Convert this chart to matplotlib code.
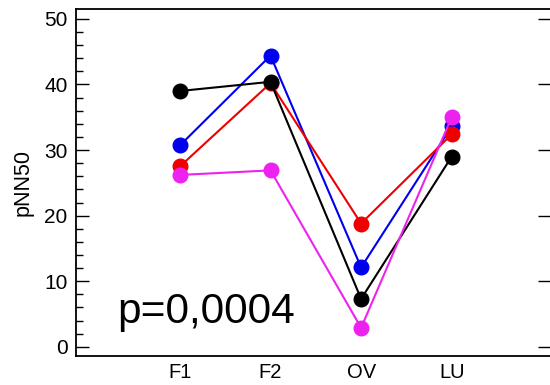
import matplotlib.pyplot as plt
import numpy as np

plt.rcParams['font.family'] = ['Liberation Sans', 'DejaVu Sans']

phases = ["F1", "F2", "OV", "LU"]
black = [39.0, 40.4, 7.3, 29.0]
blue = [30.7, 44.4, 12.1, 33.6]
red = [27.5, 40.2, 18.8, 32.4]
magenta = [26.2, 26.9, 2.9, 35.0]
p_text = "p=0,0004"

x = np.arange(len(phases))

fig = plt.figure(figsize=(5.5, 3.85), dpi=100)
ax = fig.add_axes([0.138, 0.0753, 0.862, 0.9013])

series = [(blue, "#0000ee"), (red, "#ee0000"), (black, "#000000"), (magenta, "#ee22ee")]
for vals, c in series:
    ax.plot(x, vals, color=c, lw=1.5, marker='o', markersize=10.5, zorder=3)

ax.set_xlim(-1.148, 4.085)
ax.set_ylim(-1.4, 51.5)
ax.set_xticks(x)
ax.set_xticklabels(phases, fontsize=14.5)
ax.set_yticks(np.arange(0, 51, 10))
ax.set_yticks(np.arange(0, 51, 2), minor=True)
ax.tick_params(axis='y', which='major', direction='in', length=9, width=1,
               labelsize=15, right=True, pad=6)
ax.tick_params(axis='y', which='minor', direction='in', length=5, width=1)
ax.tick_params(axis='x', length=0, pad=5)
ax.spines['right'].set_visible(False)
for s in ['left', 'top', 'bottom']:
    ax.spines[s].set_linewidth(1.3)
ax.set_ylabel("pNN50", fontsize=15.5, labelpad=8)

ax.text(-0.695, 3.66, p_text, fontsize=30.5, va='baseline', ha='left')

fig.savefig("out.png", dpi=100)
